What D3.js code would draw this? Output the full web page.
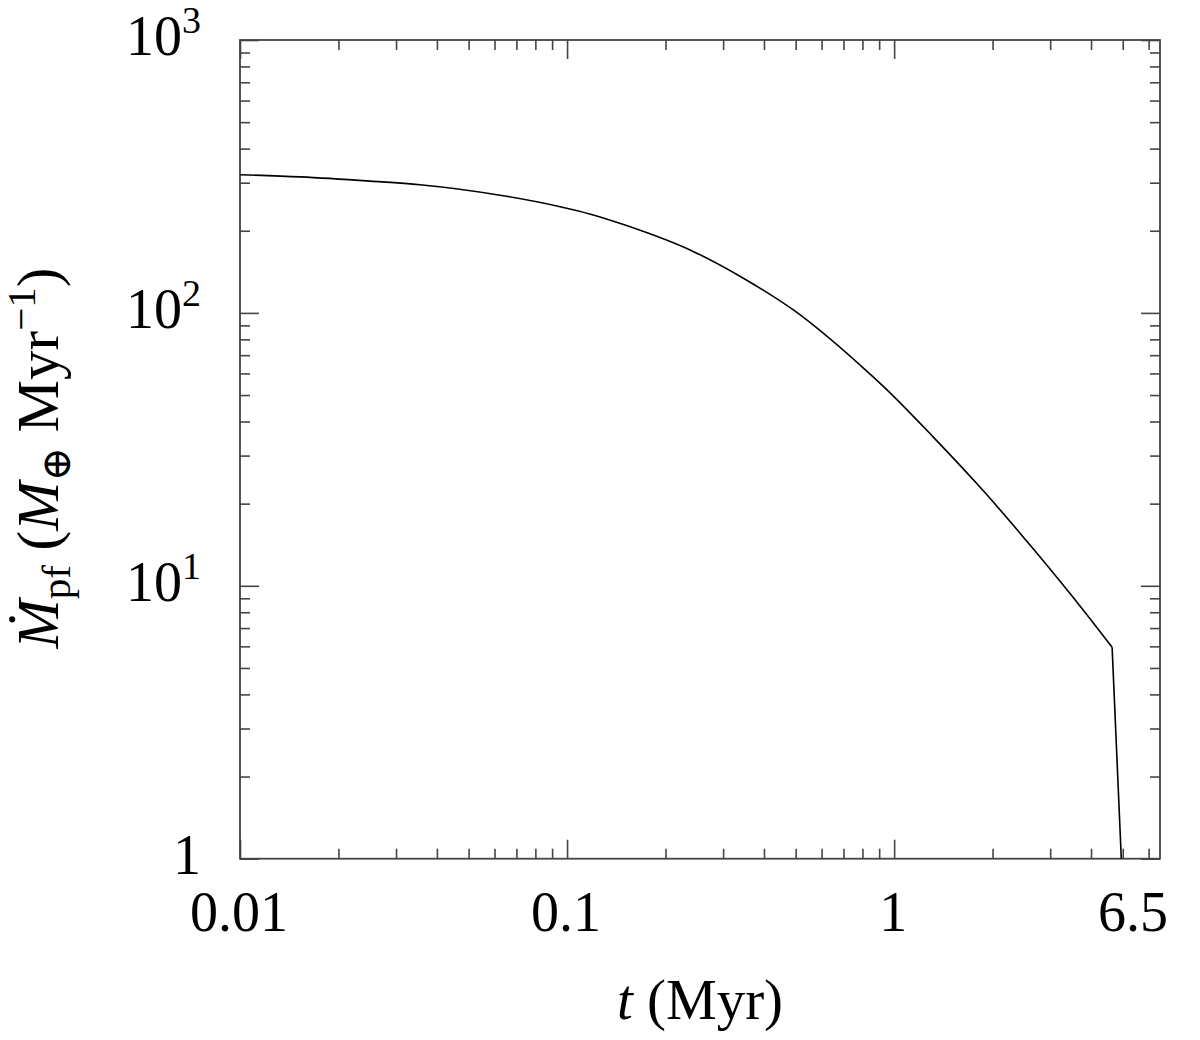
<!DOCTYPE html>
<html>
<head>
<meta charset="utf-8">
<script src="https://cdn.jsdelivr.net/npm/d3@7"></script>
<style>
  body { margin: 0; background: #fff; }
  text { font-family: "Liberation Serif", "DejaVu Serif", serif; fill: #000; }
</style>
</head>
<body>
<div id="viz"></div>
<script>
// datos (t en Myr, tasa en M_tierra / Myr)
const tiempos = [0.01, 0.0153, 0.025, 0.0355, 0.0624, 0.0952, 0.118, 0.152, 0.243, 0.346, 0.492, 0.787, 0.927, 1.32, 1.88, 2.67, 3.80, 4.64];
const tasas   = [321, 315, 304, 295, 270, 245, 230, 209, 168, 134, 102.5, 64.4, 53.8, 35.0, 22.2, 13.6, 8.1, 5.95];
// caida final (tramo recto)
const tiemposCaida = [4.64, 4.95];
const tasasCaida   = [5.95, 1.0];

const xTicks = [0.01, 0.1, 1, 6.5];
const xTickLabels = ["0.01", "0.1", "1", "6.5"];
const yTicks = [1, 10, 100, 1000];
const yExponentes = [null, "1", "2", "3"];

const width = 1200, height = 1040;
const izq = 240, der = 1160, arriba = 40, abajo = 858.7;

const svg = d3.select('#viz').append('svg')
    .attr('width', width)
    .attr('height', height);

const x = d3.scaleLog().domain([0.01, 6.5]).range([izq, der]);
const y = d3.scaleLog().domain([1, 1000]).range([abajo, arriba]);

// ticks menores: multiplos 2..9 de cada decada
const xMenores = x.ticks().filter(v => xTicks.indexOf(v) < 0 && v < 6.5);
const yMenores = y.ticks().filter(v => yTicks.indexOf(v) < 0);

const colorEje = '#444';

function dibujaEje(eje, trans) {
    const g = svg.append('g').attr('transform', trans).call(eje);
    g.select('.domain').remove();
    g.selectAll('.tick line').attr('stroke', colorEje).attr('stroke-width', 1.6);
    g.selectAll('.tick text').remove();
}

// ejes abajo / arriba
dibujaEje(d3.axisBottom(x).tickValues([0.01, 0.1, 1]).tickSize(-19), `translate(0,${abajo})`);
dibujaEje(d3.axisBottom(x).tickValues(xMenores).tickSize(-10), `translate(0,${abajo})`);
dibujaEje(d3.axisTop(x).tickValues([0.01, 0.1, 1]).tickSize(-19), `translate(0,${arriba})`);
dibujaEje(d3.axisTop(x).tickValues(xMenores).tickSize(-10), `translate(0,${arriba})`);
// ejes izquierda / derecha
dibujaEje(d3.axisLeft(y).tickValues(yTicks).tickSize(-19), `translate(${izq},0)`);
dibujaEje(d3.axisLeft(y).tickValues(yMenores).tickSize(-10), `translate(${izq},0)`);
dibujaEje(d3.axisRight(y).tickValues(yTicks).tickSize(-19), `translate(${der},0)`);
dibujaEje(d3.axisRight(y).tickValues(yMenores).tickSize(-10), `translate(${der},0)`);

// marco
svg.append('rect')
    .attr('x', izq).attr('y', arriba)
    .attr('width', der - izq).attr('height', abajo - arriba)
    .attr('fill', 'none')
    .attr('stroke', colorEje)
    .attr('stroke-width', 1.8);

// etiquetas eje x
svg.selectAll('.xlab')
    .data(xTicks)
    .enter().append('text')
    .attr('class', 'xlab')
    .attr('x', (d, i) => x(d) + (i === xTicks.length - 1 ? -27 : -1))
    .attr('y', 931)
    .attr('text-anchor', 'middle')
    .attr('font-size', 56)
    .text((d, i) => xTickLabels[i]);

// etiquetas eje y
const ylab = svg.selectAll('.ylab')
    .data(yTicks)
    .enter().append('text')
    .attr('class', 'ylab')
    .attr('x', 201)
    .attr('y', d => y(d) + 15)
    .attr('text-anchor', 'end')
    .attr('font-size', 56);
ylab.each(function(d, i) {
    const t = d3.select(this);
    if (yExponentes[i] === null) {
        t.text('1');
    } else {
        t.append('tspan').text('10');
        t.append('tspan').attr('font-size', 38).attr('dy', -22).text(yExponentes[i]);
    }
});

// titulo eje x
const tx = svg.append('text')
    .attr('x', 700).attr('y', 1019)
    .attr('text-anchor', 'middle')
    .attr('font-size', 57);
tx.append('tspan').attr('font-style', 'italic').text('t');
tx.append('tspan').text(' (Myr)');

// titulo eje y
const ty = svg.append('text')
    .attr('transform', 'translate(58,458) rotate(-90)')
    .attr('text-anchor', 'middle')
    .attr('font-size', 59);
ty.append('tspan').attr('font-style', 'italic').text('Ṁ');
ty.append('tspan').attr('font-size', 41).attr('dy', 12).text('pf');
ty.append('tspan').attr('dy', -12).text(' (');
ty.append('tspan').attr('font-style', 'italic').text('M');
ty.append('tspan').attr('font-size', 41).attr('dy', 12).text('⊕');
ty.append('tspan').attr('dy', -12).text(' Myr');
ty.append('tspan').attr('font-size', 41).attr('dy', -23).text('−1');
ty.append('tspan').attr('dy', 23).text(')');

// curva
const linea = d3.line()
    .x(d => x(d[0]))
    .y(d => y(d[1]))
    .curve(d3.curveMonotoneX);

svg.append('path')
    .datum(tiempos.map((t, i) => [t, tasas[i]]))
    .attr('d', linea)
    .attr('fill', 'none')
    .attr('stroke', '#000')
    .attr('stroke-width', 1.6);

svg.append('path')
    .datum(tiemposCaida.map((t, i) => [t, tasasCaida[i]]))
    .attr('d', linea.curve(d3.curveLinear))
    .attr('fill', 'none')
    .attr('stroke', '#000')
    .attr('stroke-width', 1.6);
</script>
</body>
</html>
